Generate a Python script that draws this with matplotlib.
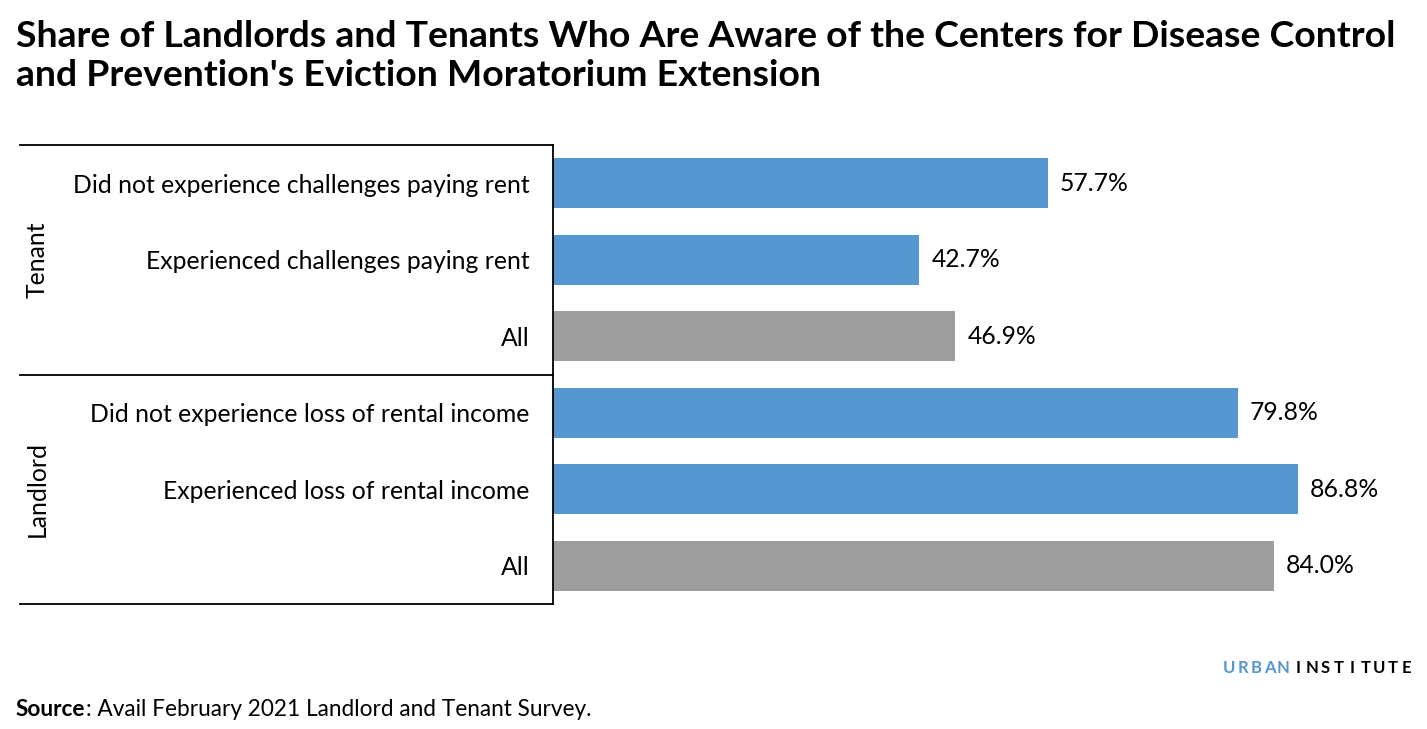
import numpy as np
import matplotlib
matplotlib.use("Agg")
import matplotlib.pyplot as plt
from matplotlib.lines import Line2D

plt.rcParams["font.family"] = ["Lato", "DejaVu Sans"]

categories = [
    "Did not experience challenges paying rent",
    "Experienced challenges paying rent",
    "All",
    "Did not experience loss of rental income",
    "Experienced loss of rental income",
    "All",
]
values = [57.7, 42.7, 46.9, 79.8, 86.8, 84.0]
is_total = [False, False, True, False, False, True]
groups = ["Tenant", "Landlord"]
group_sizes = [3, 3]

BLUE = "#5696d1"
GRAY = "#9e9e9e"

W, H = 1427, 729
fig = plt.figure(figsize=(W / 100, H / 100), dpi=100)

# axes box in pixel coords
left, right, top, bottom = 553, 1411, 145, 604
ax = fig.add_axes([left / W, 1 - bottom / H, (right - left) / W, (bottom - top) / H])

y = np.arange(len(categories))
colors = [GRAY if t else BLUE for t in is_total]
ax.barh(y, values, height=0.66, color=colors)
ax.set_xlim(0, 100)
ax.set_ylim(len(categories) - 0.5, -0.5)

for yi, v in zip(y, values):
    ax.text(v + 1.4, yi, f"{v:.1f}%", va="center", ha="left", fontsize=17.8, color="black")

ax.set_yticks(y)
ax.set_yticklabels(categories, fontsize=17.8)
ax.tick_params(axis="y", length=0, pad=17)
ax.set_xticks([])
for s in ["top", "right", "bottom"]:
    ax.spines[s].set_visible(False)
ax.spines["left"].set_color("black")
ax.spines["left"].set_linewidth(1.3)

# group brackets
x0 = 20 / W
x1 = left / W
to_fig = fig.transFigure.inverted()
bounds = [0]
for n in group_sizes:
    bounds.append(bounds[-1] + n)
for b in bounds:
    yy = to_fig.transform(ax.transData.transform((0, b - 0.5)))[1]
    fig.add_artist(Line2D([x0, x1], [yy, yy], color="black", lw=1.3, transform=fig.transFigure))
for g, a, b in zip(groups, bounds[:-1], bounds[1:]):
    mid = (a + b - 1) / 2
    yy = to_fig.transform(ax.transData.transform((0, mid)))[1]
    fig.text(37 / W, yy, g, rotation=90, va="center", ha="center", fontsize=17.8)

fig.text(16 / W, 1 - 56 / H,
         "Share of Landlords and Tenants Who Are Aware of the Centers for Disease Control\n"
         "and Prevention's Eviction Moratorium Extension",
         fontsize=26.9, fontweight="bold", va="center", ha="left", linespacing=1.22)

# source line: bold word followed by regular text
renderer = fig.canvas.get_renderer()
src = fig.text(16 / W, 1 - 709 / H, "Source", fontsize=16.3, fontweight="bold",
               va="center", ha="left")
bb = src.get_window_extent(renderer=renderer)
fig.text(bb.x1 / W, 1 - 709 / H, ": Avail February 2021 Landlord and Tenant Survey.",
         fontsize=16.3, va="center", ha="left")

# logo text with wide tracking
step = 13.5
xpos = 1229
for ch in "URBAN":
    fig.text(xpos / W, 1 - 668 / H, ch, fontsize=12, fontweight="bold", color=BLUE,
             ha="center", va="center")
    xpos += step
xpos += 2
for ch in "INSTITUTE":
    fig.text(xpos / W, 1 - 668 / H, ch, fontsize=12, fontweight="bold", color="black",
             ha="center", va="center")
    xpos += step

fig.savefig("out.png", dpi=100, facecolor="white")
